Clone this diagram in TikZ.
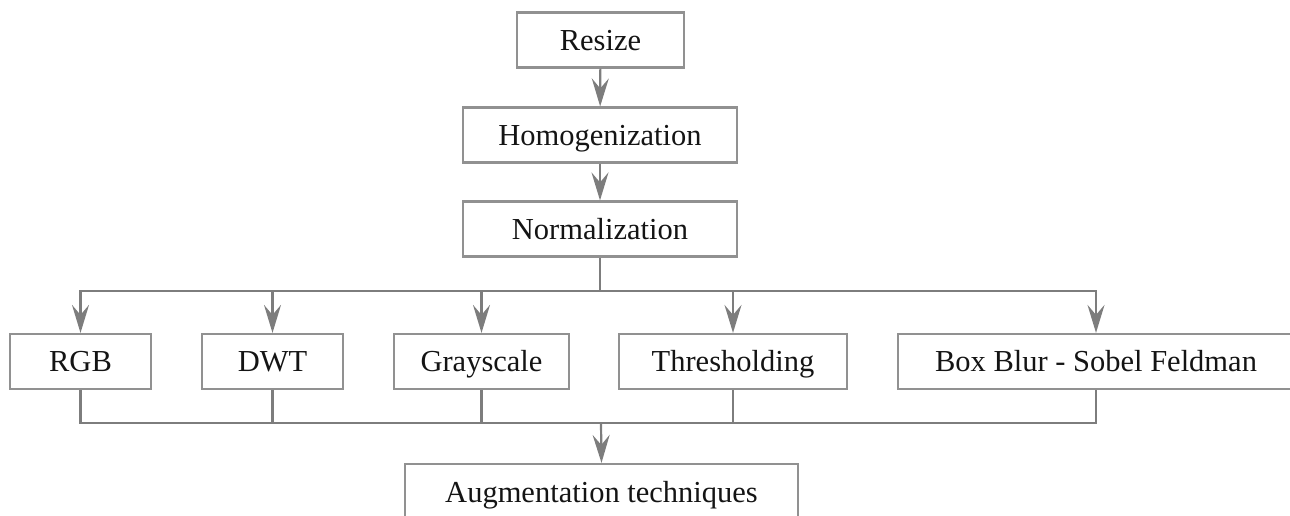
\documentclass[tikz,border=0pt]{standalone}
\usepackage{fontspec}
\setmainfont{Liberation Serif}
\usetikzlibrary{arrows.meta}
\definecolor{linegray}{RGB}{125,125,125}
\definecolor{boxgray}{RGB}{145,145,145}
\definecolor{txt}{RGB}{20,20,20}
\begin{document}
\begin{tikzpicture}[x=1pt,y=-1pt,
  box/.style={draw=boxgray, line width=2.2pt, rectangle, inner sep=0pt,
    minimum height=55pt, text=txt, font=\fontsize{30.5}{36}\selectfont,
    text height=20pt, text depth=0pt},
  conn/.style={draw=linegray, line width=2.2pt},
  arr/.style={conn, -{Stealth[length=28pt,width=17pt,inset=10pt]}}]
\useasboundingbox (0,0) rectangle (1290,515);
\clip (0,0) rectangle (1290,515);
\node[box, minimum width=167pt] (resize) at (600.5,40) {Resize};
\node[box, minimum width=274pt] (homog) at (600,135) {Homogenization};
\node[box, minimum width=274pt] (norm) at (600,229) {Normalization};
\node[box, minimum width=141pt] (rgb) at (80.5,361.5) {RGB};
\node[box, minimum width=141pt] (dwt) at (272.5,361.5) {DWT};
\node[box, minimum width=175pt] (gray) at (481.5,361.5) {Grayscale};
\node[box, minimum width=228pt] (thr) at (733,361.5) {Thresholding};
\node[box, minimum width=396pt] (blur) at (1096,361.5) {Box Blur - Sobel Feldman};
\node[box, minimum width=393pt, minimum height=56pt] (aug) at (601.5,492) {Augmentation techniques};
\coordinate (bus1) at (600,291);
\coordinate (bus2) at (601,423);
\draw[arr] (resize) -- (homog);
\draw[arr] (homog) -- (norm);
\draw[conn] (norm.south) -- (bus1);
\draw[arr] (bus1) -| (rgb.north);
\draw[arr] (bus1) -| (dwt.north);
\draw[arr] (bus1) -| (gray.north);
\draw[arr] (bus1) -| (thr.north);
\draw[arr] (bus1) -| (blur.north);
\draw[conn] (rgb.south) |- (bus2);
\draw[conn] (dwt.south) |- (bus2);
\draw[conn] (gray.south) |- (bus2);
\draw[conn] (thr.south) |- (bus2);
\draw[conn] (blur.south) |- (bus2);
\draw[arr] (bus2) -- (aug.north);
\end{tikzpicture}
\end{document}
